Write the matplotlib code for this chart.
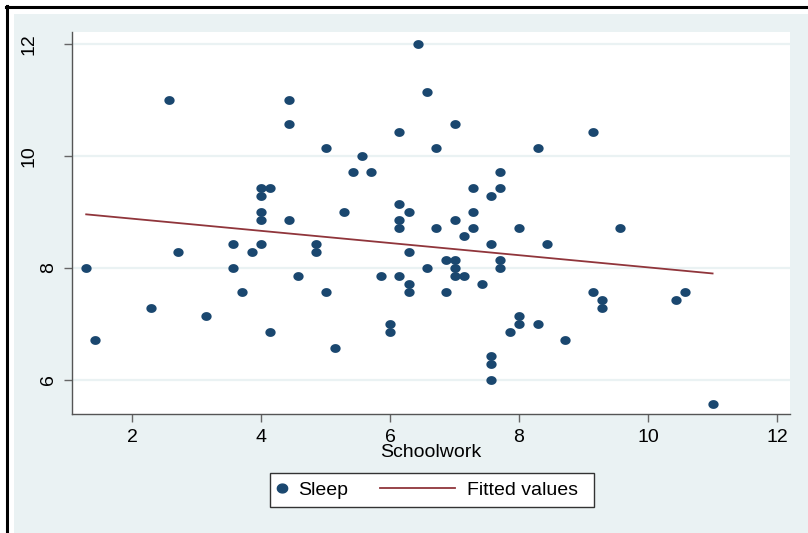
import numpy as np
import matplotlib as mpl
mpl.use("Agg")
import matplotlib.pyplot as plt
from matplotlib.path import Path
from matplotlib.patches import Rectangle
from matplotlib.lines import Line2D

plt.rcParams["font.family"] = ["Liberation Sans", "DejaVu Sans"]

# hours per day (weekly averages)
schoolwork = [1.29, 1.43, 2.57, 2.29, 2.71, 3.14, 3.57, 3.57, 3.71, 3.86,
              4.00, 4.00, 4.00, 4.00, 4.00, 4.14, 4.14, 4.43, 4.43, 4.43,
              4.57, 4.86, 4.86, 5.00, 5.00, 5.14, 5.29, 5.43, 5.57, 5.71,
              5.86, 6.00, 6.00, 6.14, 6.14, 6.14, 6.14, 6.14, 6.29, 6.29,
              6.29, 6.29, 6.43, 6.57, 6.57, 6.71, 6.71, 6.86, 6.86, 7.00,
              7.00, 7.00, 7.00, 7.00, 7.14, 7.14, 7.29, 7.29, 7.29, 7.43,
              7.57, 7.57, 7.57, 7.57, 7.57, 7.71, 7.71, 7.71, 7.71, 7.86,
              8.00, 8.00, 8.00, 8.29, 8.29, 8.43, 8.71, 9.14, 9.57, 9.14,
              9.29, 9.29, 10.43, 10.57, 11.00]
sleep = [8.00, 6.71, 11.00, 7.29, 8.29, 7.14, 8.43, 8.00, 7.57, 8.29,
         8.43, 8.86, 9.00, 9.29, 9.43, 9.43, 6.86, 11.00, 10.57, 8.86,
         7.86, 8.43, 8.29, 10.14, 7.57, 6.57, 9.00, 9.71, 10.00, 9.71,
         7.86, 7.00, 6.86, 10.43, 9.14, 8.86, 8.71, 7.86, 9.00, 8.29,
         7.71, 7.57, 12.00, 11.14, 8.00, 10.14, 8.71, 8.14, 7.57, 10.57,
         8.86, 8.14, 8.00, 7.86, 8.57, 7.86, 9.43, 9.00, 8.71, 7.71,
         9.29, 8.43, 6.43, 6.29, 6.00, 9.71, 9.43, 8.14, 8.00, 6.86,
         8.71, 7.14, 7.00, 10.14, 7.00, 8.43, 6.71, 10.43, 8.71, 7.57,
         7.43, 7.29, 7.43, 7.57, 5.57]
xticks = [2, 4, 6, 8, 10, 12]
yticks = [6, 8, 10, 12]

NAVY = "#1A476F"
MAROON = "#90353B"
PALE = "#EAF2F3"

x = np.array(schoolwork)
y = np.array(sleep)
slope, intercept = np.polyfit(x, y, 1)
xf = np.array([x.min(), x.max()])
yf = intercept + slope * xf

t = np.linspace(0, 2 * np.pi, 60)
dot = Path(np.column_stack([np.cos(t), 0.86 * np.sin(t)]), closed=True)

W, H = 808, 533
fig = plt.figure(figsize=(W / 100, H / 100), dpi=100, facecolor="white")
# stata-ish graph region with a black frame at top/left
fig.patches.append(Rectangle((14 / W, 0), 1, 1 - 14 / H, transform=fig.transFigure,
                             facecolor=PALE, edgecolor="none", zorder=-10))
fig.lines.append(Line2D([6 / W, 1], [1 - 7 / H, 1 - 7 / H], transform=fig.transFigure,
                        color="black", lw=2.2, zorder=-5))
fig.lines.append(Line2D([7 / W, 7 / W], [0, 1 - 6 / H], transform=fig.transFigure,
                        color="black", lw=2.2, zorder=-5))

ax = fig.add_axes([72 / W, 1 - 414 / H, (790 - 72) / W, (414 - 32) / H])
ax.set_facecolor("white")
ax.scatter(x, y, s=7.4 ** 2, marker=dot, color=NAVY, linewidths=0, zorder=3)
ax.plot(xf, yf, color=MAROON, lw=1.3, zorder=2)

ax.set_xlim(1.07, 12.2)
ax.set_ylim(5.39, 12.21)
ax.set_xticks(xticks)
ax.set_yticks(yticks)
ax.set_xticklabels([str(v) for v in xticks], fontsize=14)
ax.set_yticklabels([str(v) for v in yticks], fontsize=14, rotation=90, va="center")
for yv in yticks:
    ax.axhline(yv, color=PALE, lw=1.6, zorder=1)
for s in ["top", "right"]:
    ax.spines[s].set_visible(False)
for s in ["left", "bottom"]:
    ax.spines[s].set_color("#555555")
    ax.spines[s].set_linewidth(1.0)
ax.tick_params(axis="both", length=5.5, width=1.0, color="#666666")
ax.tick_params(axis="x", pad=5)
# two-digit y labels sit further out than single-digit ones
for tk, v in zip(ax.yaxis.get_major_ticks(), yticks):
    tk.set_pad(19 if v >= 10 else 5.5)
ax.set_xlabel("Schoolwork", fontsize=14, labelpad=-1)

# legend: two frameless legends inside one drawn box
fs = 14
fig.patches.append(Rectangle((270 / W, 1 - 507 / H), 324 / W, 34 / H,
                             transform=fig.transFigure, facecolor="white",
                             edgecolor="#333333", lw=1.0, zorder=-1))
leg1 = fig.legend(handles=[Line2D([], [], ls="none", marker=dot, ms=7.4, color=NAVY)],
                  labels=["Sleep"], loc="center left",
                  bbox_to_anchor=(272 / W, 1 - 490 / H), frameon=False, fontsize=fs,
                  handlelength=1.0, handletextpad=0.35, borderpad=0, borderaxespad=0)
leg2 = fig.legend(handles=[Line2D([], [], color=MAROON, lw=1.3)],
                  labels=["Fitted values"], loc="center left",
                  bbox_to_anchor=(380 / W, 1 - 490 / H), frameon=False, fontsize=fs,
                  handlelength=3.86, handletextpad=0.6, borderpad=0, borderaxespad=0)

fig.savefig("out.png", dpi=100)
